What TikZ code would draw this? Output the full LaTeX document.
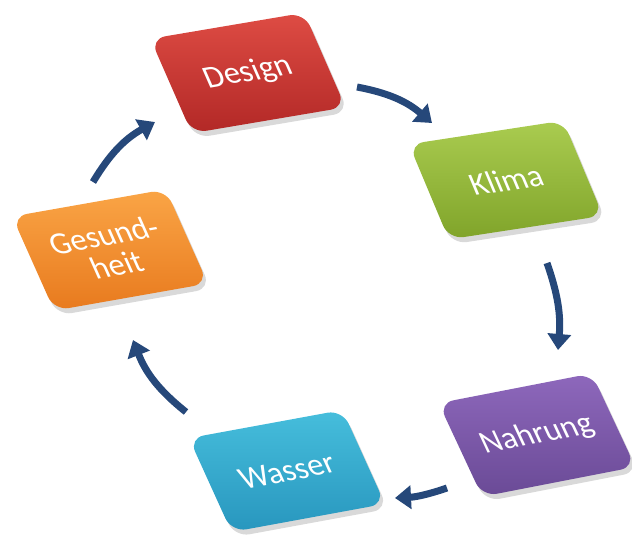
\documentclass[tikz,border=0pt]{standalone}
\usepackage{fontspec}
\setmainfont{Carlito}
\usetikzlibrary{arrows.meta,shadows}
\definecolor{arrowblue}{RGB}{38,72,122}
\definecolor{redT}{RGB}{222,76,68}\definecolor{redB}{RGB}{178,40,38}
\definecolor{grnT}{RGB}{170,204,80}\definecolor{grnB}{RGB}{128,164,42}
\definecolor{orgT}{RGB}{250,165,70}\definecolor{orgB}{RGB}{232,122,30}
\definecolor{cyaT}{RGB}{70,190,220}\definecolor{cyaB}{RGB}{40,150,190}
\definecolor{purT}{RGB}{142,104,188}\definecolor{purB}{RGB}{106,74,150}
\begin{document}
\begin{tikzpicture}[x=1pt,y=1pt,
  boxnode/.style={minimum width=156pt,minimum height=100pt,rounded corners=15pt,
    inner sep=2pt,text=white,font=\fontsize{32}{31}\selectfont,align=center,
    xslant=-0.25,
    drop shadow={shadow xshift=3pt,shadow yshift=-5pt,opacity=0.3}},
  cyc/.style={line width=7pt,draw=arrowblue,-{Triangle[width=23pt,length=16pt]}}]
\useasboundingbox (0,0) rectangle (632,-539);
% boxes
\node[rotate=9.6,boxnode,top color=redT,bottom color=redB] (design) at (248,-73) {Design};
\node[rotate=8.7,boxnode,top color=grnT,bottom color=grnB] (klima) at (506,-180) {Klima};
\node[rotate=10,boxnode,top color=orgT,bottom color=orgB] (gesund) at (110,-250) {Gesund-\\heit};
\node[rotate=10.4,boxnode,top color=cyaT,bottom color=cyaB] (wasser) at (287,-471) {Wasser};
\node[rotate=11,boxnode,top color=purT,bottom color=purB] (nahrung) at (537,-435) {Nahrung};
% arrow end points
\coordinate (a1s) at (357,-87);  \coordinate (a1e) at (432,-123);
\coordinate (a2s) at (547,-263); \coordinate (a2e) at (558,-350);
\coordinate (a3s) at (447,-488); \coordinate (a3e) at (395,-498);
\coordinate (a4s) at (186,-412); \coordinate (a4e) at (133,-340);
\coordinate (a5s) at (93,-182);  \coordinate (a5e) at (155,-122);
\draw[cyc] (a1s) to[bend left=15] (a1e);
\draw[cyc] (a2s) to[bend left=12] (a2e);
\draw[cyc] (a3s) to[bend left=8] (a3e);
\draw[cyc] (a4s) to[bend left=15] (a4e);
\draw[cyc] (a5s) to[bend left=15] (a5e);
\end{tikzpicture}
\end{document}
